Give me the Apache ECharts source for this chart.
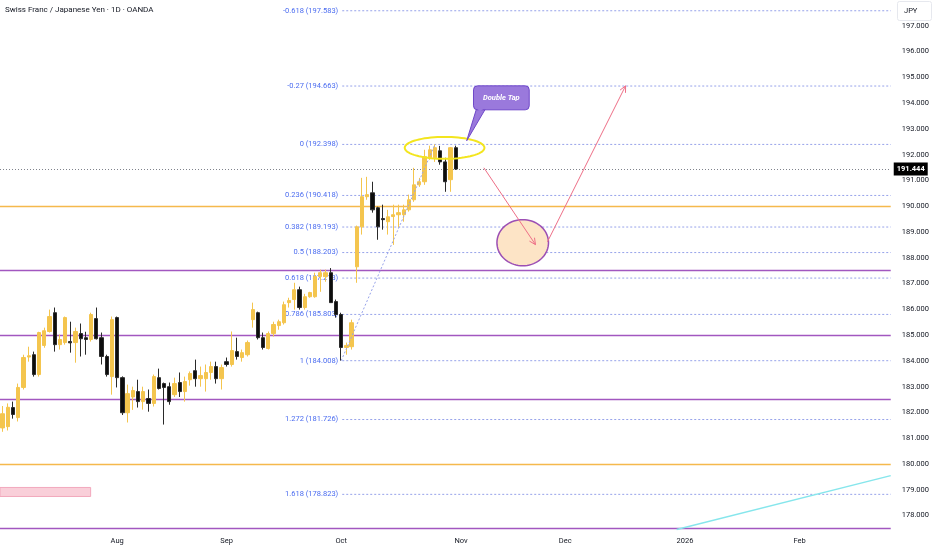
<!DOCTYPE html>
<html><head><meta charset="utf-8">
<script src="https://cdn.jsdelivr.net/npm/echarts@6/dist/echarts.min.js"></script>
<style>html,body{margin:0;padding:0;background:#fff}#c{width:932px;height:550px}</style>
</head><body><div id="c"></div>
<script>
const chartTitle = 'Swiss Franc / Japanese Yen · 1D · OANDA';
const currencyLabel = 'JPY';
const firstDate = '2025-07-02';
const slotCount = 171;
const monthNames = ['Jan','Feb','Mar','Apr','May','Jun','Jul','Aug','Sep','Oct','Nov','Dec'];

const openP = [181.40,181.45,182.19,181.80,182.97,184.15,184.24,183.47,184.60,185.14,
  185.87,184.63,184.71,184.75,184.71,185.06,184.90,184.83,185.64,184.90,
  184.17,183.39,185.68,183.35,181.99,182.60,182.81,182.42,182.54,182.35,
  183.35,183.12,183.00,182.69,183.16,182.81,183.27,183.62,183.31,183.31,
  183.55,183.78,183.31,183.97,183.86,184.36,184.13,184.24,185.60,185.87,
  184.90,184.48,185.06,185.37,185.48,186.26,186.38,186.76,186.07,186.49,
  186.49,187.27,187.27,187.42,186.30,185.80,184.52,184.55,187.65,189.20,
  190.37,190.52,189.94,189.52,189.40,189.60,189.67,189.67,189.86,190.25,
  190.83,190.95,191.88,191.88,192.15,191.72,191.03,192.27];
const closeP = [181.95,182.20,181.92,182.97,184.13,184.20,183.47,185.10,185.17,185.72,
  184.63,184.83,185.68,184.70,185.14,184.86,184.83,185.80,184.86,184.17,
  183.47,185.60,183.35,181.99,182.73,182.85,182.42,182.81,182.35,183.39,
  182.93,182.97,182.42,183.12,182.81,183.20,183.51,183.31,183.43,183.55,
  183.78,183.31,183.74,183.86,184.40,184.17,184.32,184.71,185.99,184.90,
  184.52,185.06,185.41,185.52,186.18,186.34,186.76,186.07,186.49,186.65,
  187.27,187.42,187.42,186.26,185.80,184.52,184.60,185.48,189.20,190.37,
  190.45,189.86,189.20,189.48,189.59,189.67,189.75,189.86,190.25,190.83,
  190.95,191.92,192.19,192.27,191.72,190.95,192.27,191.444];
const lowP = [181.25,181.30,181.76,181.65,182.89,183.97,183.39,183.39,184.51,185.10,
  184.36,184.44,184.63,184.32,183.93,184.17,184.24,184.75,184.83,183.86,
  183.39,182.69,182.97,181.90,181.61,182.10,182.19,182.11,182.03,182.23,
  182.89,181.53,182.30,182.60,182.60,182.42,183.04,183.00,183.00,182.81,
  183.27,183.12,182.89,183.78,183.78,184.05,183.97,184.17,185.29,184.83,
  184.44,184.44,184.94,185.21,185.41,186.07,185.99,185.99,185.99,186.45,
  186.45,186.68,187.07,186.26,185.68,184.008,184.24,184.44,187.03,188.90,
  190.25,189.75,188.70,189.09,188.90,188.50,189.17,189.40,189.79,190.17,
  190.75,190.83,191.80,191.72,191.61,190.56,190.56,191.41];
const highP = [182.25,182.35,182.42,183.12,184.24,184.55,184.36,185.13,185.29,185.99,
  186.07,185.02,185.72,185.52,185.29,185.45,185.13,185.87,186.07,185.10,
  184.24,185.72,185.72,183.40,183.08,183.00,183.27,183.00,182.89,183.47,
  183.70,183.16,183.16,183.35,183.55,183.39,183.59,184.05,183.78,183.86,
  183.97,183.97,183.86,184.13,185.14,184.90,184.44,184.79,186.26,185.91,
  185.10,185.14,185.52,185.60,186.30,186.45,187.03,186.88,186.60,186.68,
  187.42,187.54,187.54,187.60,186.38,185.87,184.71,185.60,189.25,191.10,
  191.14,190.95,189.98,190.06,189.86,190.06,190.06,190.06,190.45,191.49,
  191.10,192.19,192.35,192.398,192.34,191.88,192.30,192.35];

const yTicks = [178,179,180,181,182,183,184,185,186,187,188,189,190,191,192,193,194,195,196,197];
const lastPrice = 191.444;
const purpleLevels = [187.5, 185, 182.5, 177.5];
const orangeLevels = [190, 180];
const fibRatios = [-0.618, -0.27, 0, 0.236, 0.382, 0.5, 0.618, 0.786, 1, 1.272, 1.618];
const fibPrices = [197.583, 194.663, 192.398, 190.418, 189.193, 188.203, 187.213, 185.803, 184.008, 181.726, 178.823];
const fibStartIdx = 65.2;

// annotation anchors in [slot index, price]
const yellowEllipse = {x1: 77.2, x2: 92.5, yTop: 192.69, yBottom: 191.84};
const callout = {x1: 90.4, x2: 101.1, yTop: 194.67, yBottom: 193.74, tip: [89.1, 192.54], text: 'Double Tap'};
const arrowDown = {from: [92.4, 191.49], to: [102.3, 188.51]};
const targetEllipse = {x1: 94.9, x2: 104.8, yTop: 189.48, yBottom: 187.69};
const arrowUp = {from: [104.6, 188.62], to: [119.6, 194.67]};
const pinkBox = {x1: -0.5, x2: 16.9, yTop: 179.09, yBottom: 178.74};
const cyanLine = {from: [129.4, 177.46], to: [170.5, 179.55]};
const fibDiagonal = {from: [65, 184.008], to: [83, 192.398]};

// weekday categories
const categories = [];
(function () {
  const d = new Date(firstDate + 'T00:00:00Z');
  while (categories.length < slotCount) {
    const w = d.getUTCDay();
    if (w !== 0 && w !== 6) categories.push(d.toISOString().slice(0, 10));
    d.setUTCDate(d.getUTCDate() + 1);
  }
})();
function isMonthStart(i) {
  return i > 0 && categories[i].slice(5, 7) !== categories[i - 1].slice(5, 7);
}
function monthLabel(s) {
  const m = +s.slice(5, 7);
  return m === 1 ? s.slice(0, 4) : monthNames[m - 1];
}

const candleData = openP.map((o, i) => [o, closeP[i], lowP[i], highP[i]]);

const PURPLE = '#a257c0', ORANGE = '#f5b94c', FIBLINE = '#97a3ea', FIBTEXT = '#4b6cf0';
const TEXT = '#131722', FONT = 'Roboto, "Liberation Sans", sans-serif';

function ellipsePoints(api, e) {
  const a = api.coord([e.x1, e.yTop]), b = api.coord([e.x2, e.yBottom]);
  const cx = (a[0] + b[0]) / 2, cy = (a[1] + b[1]) / 2, rx = Math.abs(b[0] - a[0]) / 2, ry = Math.abs(b[1] - a[1]) / 2;
  const pts = [];
  for (let k = 0; k < 72; k++) {
    const t = k / 72 * Math.PI * 2;
    pts.push([cx + rx * Math.cos(t), cy + ry * Math.sin(t)]);
  }
  return pts;
}
function arrowEls(api, ar, color) {
  const p1 = api.coord(ar.from), p2 = api.coord(ar.to);
  const ang = Math.atan2(p2[1] - p1[1], p2[0] - p1[0]);
  const L = 7, s = 0.45;
  const w1 = [p2[0] - L * Math.cos(ang - s), p2[1] - L * Math.sin(ang - s)];
  const w2 = [p2[0] - L * Math.cos(ang + s), p2[1] - L * Math.sin(ang + s)];
  return [
    {type: 'line', shape: {x1: p1[0], y1: p1[1], x2: p2[0], y2: p2[1]}, style: {stroke: color, lineWidth: 1}},
    {type: 'polyline', shape: {points: [w1, p2, w2]}, style: {stroke: color, lineWidth: 1, fill: null}}
  ];
}

const drawings = ['pinkBox', 'cyanLine', 'fibDiagonal', 'targetEllipse', 'arrowDown', 'arrowUp', 'yellowEllipse', 'callout'];

const chart = echarts.init(document.getElementById('c'), null, {renderer: 'canvas'});
chart.setOption({
  backgroundColor: '#ffffff',
  animation: false,
  grid: {left: -2, right: 39, top: 0, bottom: 20, containLabel: false},
  xAxis: [
    {type: 'category', data: categories, boundaryGap: true,
     axisLine: {show: false}, axisTick: {show: false}, splitLine: {show: false},
     axisLabel: {interval: (i) => isMonthStart(i), formatter: (v) => monthLabel(v),
       fontSize: 7.5, color: TEXT, margin: 7, fontFamily: FONT}},
    {type: 'value', min: -0.5, max: slotCount - 0.5, show: false}
  ],
  yAxis: [{type: 'value', position: 'right', min: 177.44, max: 198.0, scale: true,
    splitLine: {show: false}, axisLine: {show: false}, axisTick: {show: false},
    axisLabel: {customValues: yTicks, formatter: (v) => v.toFixed(3), fontSize: 7.5, color: TEXT, margin: 11, fontFamily: FONT}}],
  graphic: [
    {type: 'text', left: 5, top: 6, z: 100, style: {text: chartTitle, fill: TEXT, font: '8px ' + FONT}},
    {type: 'rect', left: 897, top: 1, z: 100, shape: {width: 34, height: 19, r: 2}, style: {fill: '#fff', stroke: '#e6e8ee'}},
    {type: 'text', left: 904, top: 7, z: 101, style: {text: currencyLabel, fill: TEXT, font: '7.5px ' + FONT}}
  ],
  series: [
    {type: 'custom', xAxisIndex: 1, yAxisIndex: 0, z: 1, silent: true,
     data: fibPrices.map((p, i) => [fibStartIdx, p]),
     renderItem: (params, api) => {
       const i = params.dataIndex;
       const p1 = api.coord([fibStartIdx, fibPrices[i]]);
       const p2 = api.coord([slotCount - 0.5, fibPrices[i]]);
       return {type: 'group', children: [
         {type: 'line', shape: {x1: p1[0], y1: p1[1], x2: p2[0], y2: p2[1]}, style: {stroke: FIBLINE, lineWidth: 1, lineDash: [2, 2]}},
         {type: 'text', x: p1[0] - 4, y: p1[1], style: {text: String(fibRatios[i]) + ' (' + fibPrices[i].toFixed(3) + ')',
           align: 'right', verticalAlign: 'middle', fill: FIBTEXT, font: '7.5px ' + FONT}}
       ]};
     }},
    {type: 'candlestick', xAxisIndex: 0, yAxisIndex: 0, z: 3, data: candleData, barWidth: '72%',
     itemStyle: {color: '#f4c54e', color0: '#0d0d0d', borderColor: '#f4c54e', borderColor0: '#2a2a2a', borderWidth: 1},
     markLine: {silent: true, symbol: ['none', 'none'], animation: false, z: 2,
       data: [].concat(
         purpleLevels.map(v => ({yAxis: v, lineStyle: {color: PURPLE, width: 1.3, type: 'solid'}, label: {show: false}})),
         orangeLevels.map(v => ({yAxis: v, lineStyle: {color: ORANGE, width: 1.3, type: 'solid'}, label: {show: false}})),
         [{yAxis: lastPrice, lineStyle: {color: '#80838c', width: 1, type: [1, 2]},
           label: {show: true, position: 'end', distance: 3, formatter: lastPrice.toFixed(3), backgroundColor: '#000',
             color: '#fff', fontSize: 7.5, fontWeight: 'bold', padding: [3, 3, 2, 3], fontFamily: FONT}}]
       )}},
    {type: 'custom', xAxisIndex: 1, yAxisIndex: 0, z: 5, silent: true,
     data: drawings.map(() => [0, 185]),
     renderItem: (params, api) => {
       const kind = drawings[params.dataIndex];
       if (kind === 'pinkBox') {
         const a = api.coord([pinkBox.x1, pinkBox.yTop]), b = api.coord([pinkBox.x2, pinkBox.yBottom]);
         return {type: 'rect', shape: {x: a[0], y: a[1], width: b[0] - a[0], height: b[1] - a[1]}, style: {fill: '#f9cfd9', stroke: '#f2a9bd', lineWidth: 1}};
       }
       if (kind === 'cyanLine' || kind === 'fibDiagonal') {
         const ln = kind === 'cyanLine' ? cyanLine : fibDiagonal;
         const p1 = api.coord(ln.from), p2 = api.coord(ln.to);
         return {type: 'line', shape: {x1: p1[0], y1: p1[1], x2: p2[0], y2: p2[1]},
           style: kind === 'cyanLine' ? {stroke: '#86e6ec', lineWidth: 1.5} : {stroke: FIBLINE, lineWidth: 1, lineDash: [2, 2]}};
       }
       if (kind === 'targetEllipse') {
         return {type: 'polygon', shape: {points: ellipsePoints(api, targetEllipse)}, style: {fill: '#fde4c6', stroke: '#9c4fb4', lineWidth: 1.5}};
       }
       if (kind === 'yellowEllipse') {
         return {type: 'polygon', shape: {points: ellipsePoints(api, yellowEllipse)}, style: {fill: null, stroke: '#f3e51e', lineWidth: 2}};
       }
       if (kind === 'arrowDown') return {type: 'group', children: arrowEls(api, arrowDown, '#ee6f87')};
       if (kind === 'arrowUp') return {type: 'group', children: arrowEls(api, arrowUp, '#ee6f87')};
       if (kind === 'callout') {
         const a = api.coord([callout.x1, callout.yTop]), b = api.coord([callout.x2, callout.yBottom]), t = api.coord(callout.tip);
         return {type: 'group', children: [
           {type: 'polygon', shape: {points: [[a[0] + 3, b[1] - 1], [a[0] + 12, b[1] - 1], t]}, style: {fill: '#9a79dc', stroke: '#6f48c9', lineWidth: 1}},
           {type: 'rect', shape: {x: a[0], y: a[1], width: b[0] - a[0], height: b[1] - a[1], r: 4}, style: {fill: '#9a79dc', stroke: '#6f48c9', lineWidth: 1}},
           {type: 'polygon', shape: {points: [[a[0] + 3.5, b[1] - 2], [a[0] + 11.5, b[1] - 2], [a[0] + 6, b[1] + 2]]}, style: {fill: '#9a79dc'}},
           {type: 'text', x: (a[0] + b[0]) / 2, y: (a[1] + b[1]) / 2, style: {text: callout.text, align: 'center', verticalAlign: 'middle',
             fill: '#ffffff', font: 'italic bold 7.5px ' + FONT}}
         ]};
       }
       return null;
     }}
  ]
});
</script></body></html>
